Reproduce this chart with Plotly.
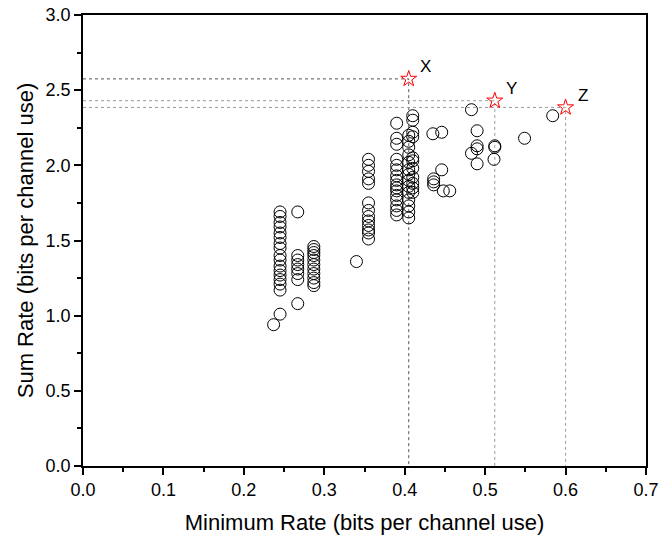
import plotly.graph_objects as go

# Scatter data (minimum rate, sum rate)
min_rate = (
    [0.245] * 16 + [0.245, 0.237]
    + [0.267] * 7 + [0.267]
    + [0.287] * 11
    + [0.340]
    + [0.355] * 13
    + [0.390] * 16
    + [0.405] * 14
    + [0.410] * 11
    + [0.435, 0.446, 0.446, 0.436, 0.436, 0.436, 0.448, 0.456]
    + [0.483, 0.490, 0.490, 0.490, 0.483, 0.490, 0.512, 0.512, 0.511, 0.549, 0.584]
)
sum_rate = (
    [1.69, 1.66, 1.62, 1.59, 1.55, 1.52, 1.48, 1.45, 1.40, 1.37, 1.33, 1.30, 1.27, 1.24, 1.21, 1.17, 1.01, 0.94]
    + [1.69, 1.40, 1.37, 1.34, 1.31, 1.28, 1.24, 1.08]
    + [1.46, 1.44, 1.42, 1.40, 1.37, 1.34, 1.31, 1.28, 1.25, 1.22, 1.20]
    + [1.36]
    + [2.04, 2.00, 1.96, 1.91, 1.88, 1.75, 1.70, 1.66, 1.63, 1.60, 1.57, 1.55, 1.51]
    + [2.28, 2.18, 2.14, 2.04, 2.00, 1.97, 1.93, 1.90, 1.87, 1.85, 1.83, 1.80, 1.77, 1.73, 1.70, 1.67]
    + [2.20, 2.16, 2.12, 2.07, 2.02, 1.97, 1.94, 1.90, 1.86, 1.82, 1.77, 1.73, 1.69, 1.65]
    + [2.33, 2.30, 2.22, 2.19, 2.05, 2.03, 1.98, 1.92, 1.88, 1.85, 1.82]
    + [2.21, 2.22, 1.97, 1.91, 1.89, 1.87, 1.83, 1.83]
    + [2.37, 2.23, 2.13, 2.11, 2.08, 2.01, 2.13, 2.12, 2.04, 2.18, 2.33]
)

# Highlighted points
star_labels = ["X", "Y", "Z"]
star_x = [0.405, 0.512, 0.600]
star_y = [2.575, 2.43, 2.385]
guide_colors = ["#555555", "#9a9a9a", "#9a9a9a"]

FONT = "Liberation Sans, Arial"

fig = go.Figure()

for sx, sy, col in zip(star_x, star_y, guide_colors):
    fig.add_trace(go.Scatter(
        x=[0, sx, sx], y=[sy, sy, 0], mode="lines",
        line=dict(color=col, width=1, dash="dot"),
        hoverinfo="skip", showlegend=False,
    ))

fig.add_trace(go.Scatter(
    x=min_rate, y=sum_rate, mode="markers",
    marker=dict(symbol="circle-open", size=12, color="black", line=dict(width=1)),
    showlegend=False,
))

fig.add_trace(go.Scatter(
    x=star_x, y=star_y, mode="markers",
    marker=dict(symbol="star-open", size=12, color="red", line=dict(width=1)),
    showlegend=False,
))

for lab, sx, sy in zip(star_labels, star_x, star_y):
    fig.add_annotation(x=sx, y=sy, text=lab, showarrow=False,
                       xshift=17, yshift=12,
                       font=dict(family=FONT, size=17, color="black"))

axis_common = dict(
    showgrid=False, zeroline=False, showline=True, linecolor="black", linewidth=1.5,
    mirror=True, ticks="outside", ticklen=7, tickwidth=1.5, tickcolor="black",
    tickfont=dict(family=FONT, size=18, color="black"), automargin=False,
)

fig.update_xaxes(
    range=[0, 0.7], tick0=0, dtick=0.1, tickformat=".1f",
    minor=dict(dtick=0.05, ticks="outside", ticklen=4, tickwidth=1.5, tickcolor="black"),
    title=dict(text="Minimum Rate (bits per channel use)",
               font=dict(family=FONT, size=22, color="black"), standoff=15),
    **axis_common,
)
fig.update_yaxes(
    range=[0, 3.0], tick0=0, dtick=0.5, tickformat=".1f",
    minor=dict(dtick=0.25, ticks="outside", ticklen=4, tickwidth=1.5, tickcolor="black"),
    title=dict(text="Sum Rate (bits per channel use)",
               font=dict(family=FONT, size=22, color="black"), standoff=6),
    **axis_common,
)

fig.update_layout(
    width=672, height=536,
    margin=dict(l=83, r=26, t=15, b=70),
    plot_bgcolor="white", paper_bgcolor="white",
)

fig.write_html("out.html",
               config={"displayModeBar": False},
               post_script="document.body.style.margin='0';document.body.style.overflow='hidden';")
